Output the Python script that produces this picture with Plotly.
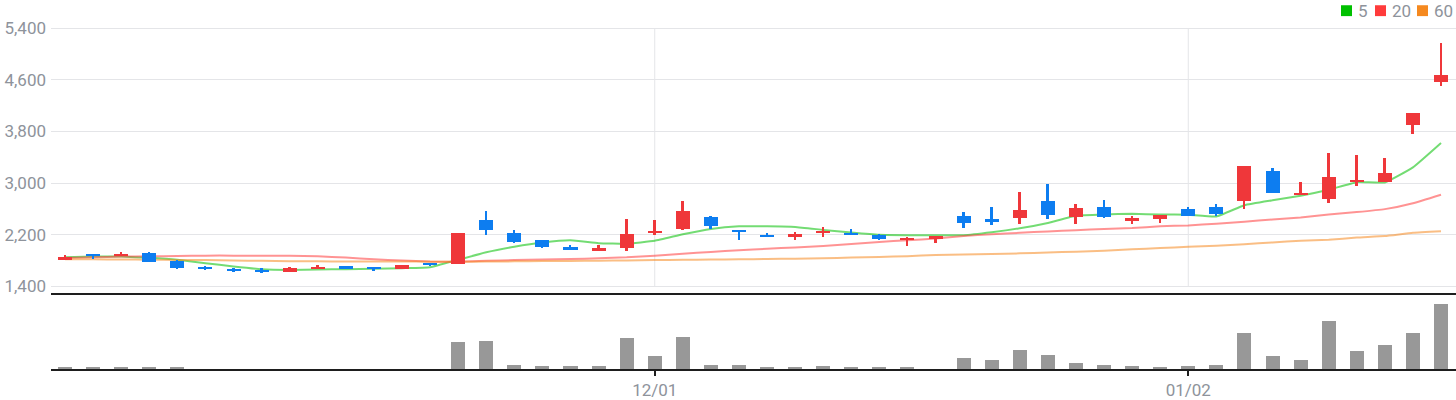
import plotly.graph_objects as go

# ---------------- data ----------------
dates = [
    "2023-11-02", "2023-11-03", "2023-11-06", "2023-11-07", "2023-11-08", "2023-11-09", "2023-11-10",
    "2023-11-13", "2023-11-14", "2023-11-15", "2023-11-16", "2023-11-17", "2023-11-20", "2023-11-21",
    "2023-11-22", "2023-11-23", "2023-11-24", "2023-11-27", "2023-11-28", "2023-11-29", "2023-11-30",
    "2023-12-01", "2023-12-04", "2023-12-05", "2023-12-06", "2023-12-07", "2023-12-08", "2023-12-11",
    "2023-12-12", "2023-12-13", "2023-12-14", "2023-12-15", "2023-12-18", "2023-12-19", "2023-12-20",
    "2023-12-21", "2023-12-22", "2023-12-26", "2023-12-27", "2023-12-28", "2024-01-02", "2024-01-03",
    "2024-01-04", "2024-01-05", "2024-01-08", "2024-01-09", "2024-01-10", "2024-01-11", "2024-01-12",
    "2024-01-15",
]
opens = [1818, 1900, 1869, 1915, 1792, 1696, 1665, 1650, 1624, 1665, 1711, 1696, 1670, 1768, 1746,
         2432, 2232, 2125, 2002, 1961, 1987, 2232, 2294, 2478, 2278, 2202, 2161, 2232, 2232, 2202,
         2120, 2140, 2493, 2447, 2452, 2723, 2467, 2631, 2406, 2436, 2600, 2631, 2728, 3183, 2815,
         2758, 3019, 3019, 3893, 4562]
highs = [1884, 1900, 1926, 1926, 1808, 1716, 1681, 1691, 1696, 1726, 1711, 1696, 1726, 1768, 2232,
         2569, 2278, 2125, 2033, 2033, 2447, 2432, 2723, 2493, 2278, 2232, 2248, 2324, 2294, 2217,
         2170, 2176, 2554, 2631, 2861, 2984, 2677, 2738, 2493, 2508, 2631, 2677, 3258, 3229, 3014,
         3459, 3428, 3382, 4087, 5178]
lows = [1818, 1829, 1869, 1777, 1670, 1654, 1624, 1608, 1624, 1665, 1665, 1639, 1670, 1711, 1746,
        2201, 2078, 1987, 1976, 1961, 1941, 2201, 2278, 2294, 2125, 2161, 2125, 2171, 2191, 2125,
        2017, 2068, 2299, 2344, 2360, 2447, 2360, 2452, 2360, 2375, 2482, 2482, 2605, 2851, 2815,
        2697, 2958, 3019, 3755, 4506]
closes = [1849, 1869, 1900, 1777, 1685, 1670, 1639, 1624, 1681, 1696, 1681, 1665, 1726, 1731, 2232,
          2268, 2094, 2002, 1976, 1987, 2217, 2263, 2570, 2340, 2248, 2161, 2217, 2263, 2191, 2140,
          2155, 2176, 2375, 2391, 2585, 2498, 2616, 2467, 2462, 2508, 2482, 2513, 3258, 2851, 2846,
          3091, 3050, 3152, 4087, 4669]
ma5 = [1849, 1860, 1860, 1841, 1811, 1757, 1707, 1665, 1654, 1661, 1665, 1670, 1681, 1696, 1811,
       1926, 2013, 2079, 2114, 2068, 2059, 2105, 2206, 2289, 2329, 2329, 2320, 2274, 2232, 2197,
       2191, 2191, 2191, 2237, 2298, 2381, 2493, 2513, 2523, 2513, 2508, 2482, 2657, 2733, 2804,
       2896, 3014, 3010, 3244, 3622]
ma20 = [1838, 1849, 1860, 1864, 1869, 1875, 1875, 1875, 1874, 1864, 1845, 1818, 1799, 1783, 1780,
        1795, 1806, 1815, 1823, 1834, 1849, 1875, 1903, 1933, 1960, 1982, 2002, 2025, 2056, 2087,
        2114, 2140, 2179, 2206, 2228, 2251, 2268, 2289, 2304, 2329, 2344, 2370, 2401, 2436, 2467,
        2513, 2550, 2596, 2688, 2820]
ma60 = [1818, 1818, 1815, 1812, 1809, 1806, 1800, 1794, 1788, 1786, 1785, 1783, 1783, 1782, 1780,
        1783, 1786, 1791, 1792, 1796, 1800, 1806, 1811, 1815, 1818, 1823, 1828, 1834, 1845, 1855,
        1867, 1884, 1892, 1900, 1910, 1923, 1936, 1952, 1972, 1992, 2013, 2028, 2053, 2079, 2105,
        2120, 2156, 2179, 2228, 2252]
volume = [5, 5, 5, 5, 5, 0, 0, 0, 0, 0, 0, 0, 0, 0, 83,
          86, 14, 8, 8, 8, 95, 41, 98, 14, 11, 5, 5, 8, 5, 5,
          5, 0, 35, 27, 59, 44, 20, 14, 8, 5, 8, 11, 110, 41, 29,
          146, 56, 74, 110, 197]
volume = [v * 1000 for v in volume]
price_ticks = [1400, 2200, 3000, 3800, 4600, 5400]
tick_dates = ["2023-12-01", "2024-01-02"]
tick_labels = ["12/01", "01/02"]
ma_periods = ["5", "20", "60"]

# ---------------- style ----------------
UP, DOWN = "#ef373a", "#0d7df0"
VOL_COLOR = "#989898"
MA_SOLID = ["#00c000", "#ff3b3b", "#f5891f"]
MA_LINE = ["rgba(0,192,0,0.55)", "rgba(255,59,59,0.55)", "rgba(245,137,31,0.55)"]
GRID = "#e4e5e8"
AXIS = "#1e1e1e"
TXT = "#8e939b"
FONT = "Roboto"

W, H = 1456, 400
ML, MR, MT, MB = 51, 0, 26, 27
PW, PH = W - ML - MR, H - MT - MB


def px_x(px):
    return (px - ML) / PW


def px_y(py):
    return (H - MB - py) / PH


x = list(range(len(dates)))
colors = [UP if c >= o else DOWN for o, c in zip(opens, closes)]

# price scale: 1400 gridline at y=289.3, 5400 at y=28.3
ppx = (price_ticks[-1] - price_ticks[0]) / (289.3 - 28.3)
price_top = price_ticks[-1] + (28.3 - MT) * ppx
price_bot = price_ticks[0] - (296.5 - 289.3) * ppx
vol_top = max(volume) * (H - MB - 298) / 66.0

fig = go.Figure()

# moving averages (drawn underneath candles)
for ma, col in zip([ma5, ma20, ma60], MA_LINE):
    fig.add_trace(go.Scatter(x=x, y=ma, mode="lines", xaxis="x", yaxis="y",
                             line=dict(color=col, width=2, shape="spline", smoothing=0.35),
                             hoverinfo="skip", showlegend=False))

# candles: wicks and bodies
fig.add_trace(go.Bar(x=x, base=lows, y=[h - l for h, l in zip(highs, lows)], width=0.07,
                     marker=dict(color=colors, line=dict(width=0)), xaxis="x", yaxis="y3",
                     showlegend=False, hoverinfo="skip"))
fig.add_trace(go.Bar(x=x, base=[min(o, c) for o, c in zip(opens, closes)],
                     y=[abs(c - o) for o, c in zip(opens, closes)], width=0.5,
                     marker=dict(color=colors, line=dict(width=0)), xaxis="x", yaxis="y3",
                     customdata=dates, showlegend=False))

# volume
fig.add_trace(go.Bar(x=x, y=volume, width=0.5, marker=dict(color=VOL_COLOR, line=dict(width=0)),
                     xaxis="x2", yaxis="y2", showlegend=False))

tick_idx = [dates.index(d) for d in tick_dates]
xrange = [-0.5, (W - MR - ML) / (654.7 - 65.0) * 21 - 0.5]

shapes = []
for t in tick_idx:
    shapes.append(dict(type="line", xref="x", yref="y", x0=t, x1=t, y0=price_ticks[0], y1=price_ticks[-1],
                       line=dict(color=GRID, width=1), layer="below"))

# legend squares + labels
legend_sq = [1341, 1375, 1417]
annotations = []
for left, lab, col in zip(legend_sq, ma_periods, MA_SOLID):
    shapes.append(dict(type="rect", xref="paper", yref="paper",
                       x0=px_x(left), x1=px_x(left + 11), y0=px_y(16), y1=px_y(5),
                       fillcolor=col, line=dict(width=0)))
    annotations.append(dict(xref="paper", yref="paper", x=px_x(left + 15), y=px_y(10.5),
                            text=lab, showarrow=False, xanchor="left", yanchor="middle",
                            font=dict(family=FONT, size=17, color=TXT)))

fig.update_layout(
    width=W, height=H,
    margin=dict(l=ML, r=MR, t=MT, b=MB, pad=0),
    paper_bgcolor="white", plot_bgcolor="white",
    barmode="overlay", bargap=0,
    showlegend=False,
    font=dict(family=FONT, size=17, color=TXT),
    xaxis=dict(domain=[0, 1], anchor="y", range=xrange, showgrid=False, zeroline=False,
               showline=True, linecolor=AXIS, linewidth=2, showticklabels=False, ticks="",
               fixedrange=True),
    xaxis2=dict(domain=[0, 1], anchor="y2", range=xrange, showgrid=False, zeroline=False,
                showline=True, linecolor=AXIS, linewidth=2, ticks="outside", ticklen=5,
                tickwidth=2, tickcolor=AXIS, tickvals=tick_idx, ticktext=tick_labels,
                tickfont=dict(family=FONT, size=17, color=TXT), fixedrange=True),
    yaxis=dict(domain=[px_y(296.5), 1], range=[price_bot, price_top], tickvals=price_ticks,
               tickformat=",", showgrid=True, gridcolor=GRID, gridwidth=1, zeroline=False,
               showline=False, ticks="", tickfont=dict(family=FONT, size=17, color=TXT),
               ticklabelstandoff=4, fixedrange=True),
    yaxis3=dict(overlaying="y", range=[price_bot, price_top], visible=False, fixedrange=True),
    yaxis2=dict(domain=[0, px_y(298)], range=[0, vol_top], showgrid=False, zeroline=False,
                showticklabels=False, ticks="", fixedrange=True),
    shapes=shapes,
    annotations=annotations,
)

fig.write_html("out.html", config={"displayModeBar": False},
               post_script="document.body.style.margin='0';")
